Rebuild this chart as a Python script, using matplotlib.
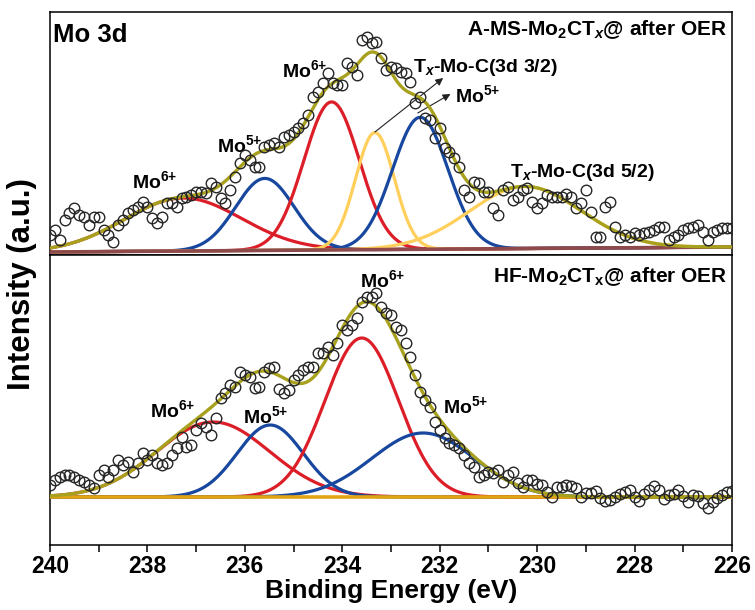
import matplotlib
matplotlib.use("Agg")
import matplotlib.pyplot as plt
import numpy as np
from matplotlib.ticker import MultipleLocator

plt.rcParams['font.family'] = ['Liberation Sans', 'DejaVu Sans']
plt.rcParams['font.weight'] = 'bold'
plt.rcParams['mathtext.fontset'] = 'custom'
plt.rcParams['mathtext.rm'] = 'Liberation Sans:bold'
plt.rcParams['mathtext.bf'] = 'Liberation Sans:bold'
plt.rcParams['mathtext.it'] = 'Liberation Sans:bold:italic'
plt.rcParams['mathtext.default'] = 'bf'

# ---- measured spectra (0.1 eV steps from 240 eV down to 226 eV) ----
energy_start, energy_stop, energy_step = 240.0, 226.0, 0.1

ams_counts = [17, 22, 12, 32, 39, 44, 37, 35, 27, 35,
              35, 22, 17, 10, 27, 32, 39, 42, 45, 50,
              45, 34, 29, 35, 49, 49, 45, 54, 55, 57,
              60, 60, 59, 69, 65, 54, 49, 62, 75, 89,
              97, 92, 85, 85, 105, 107, 109, 105, 115, 117,
              120, 124, 129, 137, 155, 160, 169, 179, 169, 167,
              167, 189, 185, 177, 212, 215, 209, 210, 194, 182,
              185, 184, 180, 179, 170, 149, 155, 134, 132, 114,
              124, 104, 100, 94, 85, 62, 55, 70, 69, 60,
              60, 44, 37, 62, 65, 52, 55, 62, 64, 50,
              44, 49, 57, 55, 55, 55, 58, 55, 44, 49,
              62, 40, 15, 15, 45, 50, 25, 15, 17, 15,
              19, 17, 19, 20, 22, 25, 25, 12, 15, 17,
              22, 24, 25, 27, 20, 12, 20, 22, 24, 24,
              24]

hf_counts = [12, 17, 20, 22, 22, 20, 17, 15, 12, 9,
             22, 27, 20, 27, 37, 32, 35, 25, 34, 44,
             37, 42, 34, 32, 34, 42, 49, 60, 50, 52,
             67, 74, 70, 62, 79, 99, 104, 112, 110, 125,
             122, 120, 109, 110, 125, 129, 130, 108, 104, 107,
             117, 122, 127, 130, 130, 144, 144, 150, 142, 154,
             172, 167, 172, 179, 195, 200, 200, 204, 190, 184,
             182, 170, 167, 154, 140, 122, 105, 97, 90, 75,
             67, 59, 54, 52, 49, 42, 34, 30, 20, 22,
             25, 24, 27, 15, 22, 25, 14, 10, 17, 17,
             13, 12, 5, 0, 10, 10, 12, 11, 9, 0,
             4, 4, 6, -1, -4, -3, 0, 3, 5, 7,
             0, -4, 3, 7, 11, 7, -2, 2, 3, 7,
             1, -5, 2, 1, -6, -11, -5, -1, 2, 5,
             6]

# ---- fitted components (Gaussian: centre eV, height, FWHM eV) ----
ams_centres = [237.27, 235.59, 234.22, 233.33, 232.40, 230.25]
ams_heights = [53, 72, 148, 117, 132, 62]
ams_fwhm = [2.83, 1.41, 1.34, 0.94, 1.34, 2.70]
ams_kinds = ['red', 'blue', 'red', 'yellow', 'blue', 'yellow']
ams_background = [0, 5]          # background at 240 eV and 226 eV

hf_centres = [236.65, 235.48, 233.60, 232.34]
hf_heights = [75, 72, 159, 64]
hf_fwhm = [2.73, 1.60, 1.78, 2.47]
hf_kinds = ['red', 'blue', 'red', 'blue']
hf_background = [0, 0]

colors = {'red': '#DC1E28', 'blue': '#17479E', 'yellow': '#FFCF5C'}
olive = '#A8A11E'

energy = np.round(np.arange(energy_start, energy_stop - 1e-6, -energy_step), 2)
fine = np.linspace(energy_start, energy_stop, 1400)


def gauss(x, c, h, fwhm):
    s = fwhm / (2 * np.sqrt(2 * np.log(2)))
    return h * np.exp(-(x - c) ** 2 / (2 * s ** 2))


def draw_panel(ax, counts, centres, heights, fwhm, kinds, bg_ends, bg_color):
    bg = np.interp(fine, [energy_stop, energy_start], bg_ends[::-1])
    total = bg.copy()
    for c, h, w, k in zip(centres, heights, fwhm, kinds):
        g = gauss(fine, c, h, w)
        total += g
        ax.plot(fine, bg + g, color=colors[k], lw=2.3, zorder=2)
    ax.plot(fine, bg, color=bg_color, lw=2.6, zorder=3)
    ax.plot(fine, total, color=olive, lw=2.4, zorder=4)
    ax.plot(energy, counts, linestyle='none', marker='o', ms=7.6,
            mfc='none', mec='#262626', mew=1.0, zorder=5, clip_on=True)


fig = plt.figure(figsize=(7.55, 6.10), dpi=100)
L, W = 50 / 755, 682 / 755
ax_top = fig.add_axes([L, (610 - 255) / 610, W, 243 / 610])
ax_bot = fig.add_axes([L, (610 - 545) / 610, W, 290 / 610], sharex=ax_top)

draw_panel(ax_top, ams_counts, ams_centres, ams_heights, ams_fwhm,
           ams_kinds, ams_background, '#8E4A4A')
draw_panel(ax_bot, hf_counts, hf_centres, hf_heights, hf_fwhm,
           hf_kinds, hf_background, '#E0A512')

ax_top.set_ylim(-3, 240)
ax_bot.set_ylim(-48, 242)
ax_bot.set_xlim(240, 226)

for ax in (ax_top, ax_bot):
    ax.set_yticks([])
    for sp in ax.spines.values():
        sp.set_linewidth(1.1)
ax_top.tick_params(axis='x', which='both', bottom=False, labelbottom=False)
ax_bot.xaxis.set_major_locator(MultipleLocator(2))
ax_bot.xaxis.set_minor_locator(MultipleLocator(1))
ax_bot.tick_params(axis='x', which='both', direction='out', length=5,
                   width=1.1, labelsize=16.5, pad=2)
for lab in ax_bot.get_xticklabels():
    lab.set_fontweight('bold')
ax_bot.set_xlabel('Binding Energy (eV)', fontsize=19, fontweight='bold',
                  labelpad=1)
fig.text(22 / 755, 1 - 284 / 610, 'Intensity (a.u.)', rotation=90,
         ha='center', va='center', fontsize=22.5, fontweight='bold')

# panel titles
ax_top.text(0.0044, 0.877, 'Mo 3d', transform=ax_top.transAxes,
            fontsize=18.5, fontweight='bold', ha='left', va='baseline')
ax_top.text(0.9927, 0.905, r'A-MS-Mo$_2$CT$_{\mathit{x}}$@ after OER',
            transform=ax_top.transAxes, fontsize=15, ha='right',
            va='baseline')
ax_bot.text(0.9927, 0.907, r'HF-Mo$_2$CT$_\mathrm{x}$@ after OER',
            transform=ax_bot.transAxes, fontsize=15, ha='right',
            va='baseline')

# component labels
MO6 = r'Mo$^{6{+}}$'
MO5 = r'Mo$^{5{+}}$'
lab_kw = dict(fontsize=14, ha='left', va='baseline')
ax_top.text(238.32, 64, MO6, **lab_kw)
ax_top.text(236.57, 100, MO5, **lab_kw)
ax_top.text(235.24, 175, MO6, **lab_kw)
ax_top.text(232.55, 180, r'T$_{\mathit{x}}$-Mo-C(3d 3/2)', **lab_kw)
ax_top.text(231.69, 150, MO5, **lab_kw)
ax_top.text(230.56, 75, r'T$_{\mathit{x}}$-Mo-C(3d 5/2)', **lab_kw)

arrow_kw = dict(arrowstyle='-|>', lw=0.8, color='#222222', mutation_scale=11,
                shrinkA=0, shrinkB=0)
ax_top.annotate('', xy=(231.93, 174), xytext=(233.33, 120), arrowprops=arrow_kw)
ax_top.annotate('', xy=(231.78, 158), xytext=(232.45, 139), arrowprops=arrow_kw)

ax_bot.text(237.95, 80, MO6, **lab_kw)
ax_bot.text(236.04, 74, MO5, **lab_kw)
ax_bot.text(233.64, 210, MO6, **lab_kw)
ax_bot.text(231.93, 84, MO5, **lab_kw)

fig.savefig('out.png', dpi=100)
